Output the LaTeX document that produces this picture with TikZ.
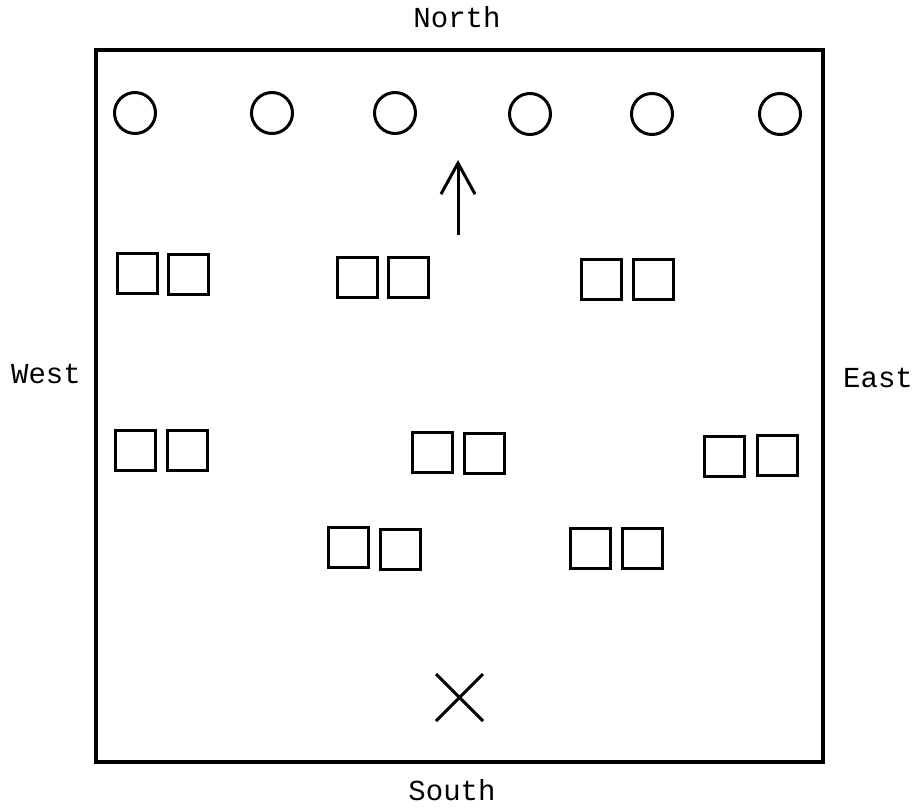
\documentclass[tikz,border=0pt]{standalone}
\usepackage{fontspec}
\setmonofont{Liberation Mono}
\usetikzlibrary{arrows.meta,shapes.misc}
\begin{document}
\begin{tikzpicture}[x=1pt,y=-1pt,
  frame/.style={line width=3.5pt},
  seat/.style={draw,line width=3pt,rectangle,minimum size=40pt,inner sep=0pt},
  post/.style={draw,line width=3pt,circle,minimum size=41pt,inner sep=0pt},
  lbl/.style={font=\ttfamily\fontsize{29}{32}\selectfont,anchor=base,inner sep=0pt},
  xmark/.style={draw,line width=3pt,cross out,minimum size=44pt,inner sep=0pt},
  dirarrow/.style={line width=3pt,-{Straight Barb[length=31pt,width=34pt,line width=3pt]}}
]
\useasboundingbox (0,0) rectangle (918,808);
\draw[frame] (96,50) rectangle (823,762);
% labels
\node[lbl] (north) at (457,28) {North};
\node[lbl] (south) at (452,800) {South};
\node[lbl] (west) at (46,383) {West};
\node[lbl] (east) at (878,387) {East};
% circles
\node[post] (c1) at (135,113) {};
\node[post] (c2) at (272,113) {};
\node[post] (c3) at (395,113) {};
\node[post] (c4) at (530,114) {};
\node[post] (c5) at (652,114) {};
\node[post] (c6) at (780,114) {};
% arrow
\coordinate (atail) at (458,235);
\coordinate (ahead) at (458,160);
\draw[dirarrow] (atail) -- (ahead);
% square pairs
\node[seat] (p1a) at (137,273.5) {};
\node[seat] (p1b) at (188,274.5) {};
\node[seat] (p2a) at (357,277.5) {};
\node[seat] (p2b) at (408.5,277.5) {};
\node[seat] (p3a) at (601,279) {};
\node[seat] (p3b) at (653,279) {};
\node[seat] (p4a) at (135.5,450.5) {};
\node[seat] (p4b) at (187.5,450.5) {};
\node[seat] (p5a) at (432.5,452.5) {};
\node[seat] (p5b) at (484.5,453.5) {};
\node[seat] (p6a) at (724,456.5) {};
\node[seat] (p6b) at (777.5,455.5) {};
\node[seat] (p7a) at (348,547.5) {};
\node[seat] (p7b) at (400.5,549.5) {};
\node[seat] (p8a) at (590.5,548) {};
\node[seat] (p8b) at (642,548) {};
% cross
\node[xmark] (x) at (459.5,697.5) {};
\end{tikzpicture}
\end{document}
